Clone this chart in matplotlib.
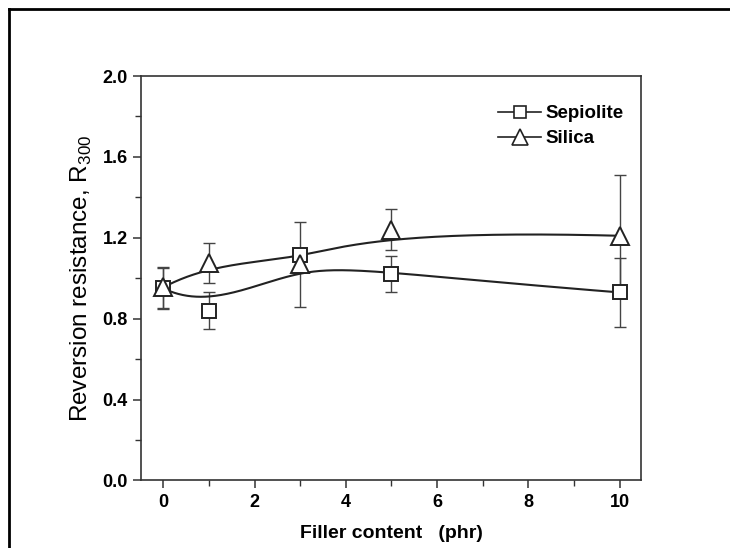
import numpy as np
import matplotlib
matplotlib.use("Agg")
import matplotlib.pyplot as plt
from matplotlib.lines import Line2D

# ---- data ----
filler = [0, 1, 3, 5, 10]
sepiolite = [0.95, 0.84, 1.115, 1.02, 0.93]
sepiolite_err = [0.10, 0.09, 0.03, 0.09, 0.17]
silica = [0.955, 1.075, 1.07, 1.24, 1.21]
silica_err = [0.10, 0.10, 0.21, 0.10, 0.30]

x_ticks = [0, 2, 4, 6, 8, 10]
y_ticks = [0.0, 0.4, 0.8, 1.2, 1.6, 2.0]


def bspline(xs, ys, n=300):
    """Clamped cubic B-spline using the data points as control points."""
    P = np.column_stack([xs, ys]).astype(float)
    m = len(P)
    k = 3
    inner = np.linspace(0, 1, m - k + 1)[1:-1]
    t = np.concatenate([[0] * (k + 1), inner, [1] * (k + 1)])
    u = np.linspace(0, 1, n)
    u[-1] = 1 - 1e-12

    def N(i, p, uu):
        if p == 0:
            return np.where((t[i] <= uu) & (uu < t[i + 1]), 1.0, 0.0)
        a = 0.0
        if t[i + p] != t[i]:
            a = (uu - t[i]) / (t[i + p] - t[i]) * N(i, p - 1, uu)
        b = 0.0
        if t[i + p + 1] != t[i + 1]:
            b = (t[i + p + 1] - uu) / (t[i + p + 1] - t[i + 1]) * N(i + 1, p - 1, uu)
        return a + b

    B = np.array([N(i, k, u) for i in range(m)])
    C = B.T @ P
    return C[:, 0], C[:, 1]


plt.rcParams['font.family'] = ['Liberation Sans', 'DejaVu Sans']
plt.rcParams['mathtext.fontset'] = 'custom'
plt.rcParams['mathtext.rm'] = 'Liberation Sans'

fig = plt.figure(figsize=(7.3, 5.48), dpi=100)
ax = fig.add_axes([0.1938, 0.1232, 0.878 - 0.1938, 0.8613 - 0.1232])

col = '#222222'
# error bars
ax.errorbar(filler, silica, yerr=silica_err, fmt='none', ecolor='#444444',
            elinewidth=1.0, capsize=4, capthick=1.0, zorder=2)
ax.errorbar(filler, sepiolite, yerr=sepiolite_err, fmt='none', ecolor='#444444',
            elinewidth=1.0, capsize=4, capthick=1.0, zorder=2)

# smooth curves
sx, sy = bspline(filler, sepiolite)
ax.plot(sx, sy, color=col, lw=1.5, zorder=3)
tx, ty = bspline(filler, silica)
ax.plot(tx, ty, color=col, lw=1.5, zorder=3)

# markers
ax.plot(filler, sepiolite, linestyle='none', marker='s', ms=10, mfc='white',
        mec=col, mew=1.4, zorder=4)
ax.plot(filler, silica, linestyle='none', marker='^', ms=13, mfc='white',
        mec=col, mew=1.4, zorder=5)

ax.set_xlim(-0.48, 10.47)
ax.set_ylim(0, 2.0)
ax.set_xticks(x_ticks)
ax.set_xticks([1, 3, 5, 7, 9], minor=True)
ax.set_yticks(y_ticks)
ax.set_yticks([0.2, 0.6, 1.0, 1.4, 1.8], minor=True)
ax.set_yticklabels([f"{v:.1f}" for v in y_ticks])
ax.tick_params(which='both', direction='out', top=False, right=False,
               labelsize=13, color='#333333')
ax.tick_params(which='major', length=6, width=1.1, pad=4)
ax.tick_params(which='minor', length=4, width=1.0)
for lab in ax.get_xticklabels() + ax.get_yticklabels():
    lab.set_fontweight('bold')
for s in ax.spines.values():
    s.set_linewidth(1.2)
    s.set_color('#333333')

ax.set_xlabel('Filler content   (phr)', fontsize=14, fontweight='bold', labelpad=10)
ax.set_ylabel('Reversion resistance, R$_{300}$', fontsize=17.5,
              fontweight='normal', labelpad=6)

h1 = Line2D([], [], color=col, lw=1.2, marker='s', ms=8.5, mfc='white', mec=col, mew=1.2)
h2 = Line2D([], [], color=col, lw=1.2, marker='^', ms=12, mfc='white', mec=col, mew=1.2)
leg = ax.legend([h1, h2], ['Sepiolite', 'Silica'], loc='upper right',
                bbox_to_anchor=(1.0, 0.97), frameon=False, fontsize=13.5,
                handlelength=2.3, handletextpad=0.25, labelspacing=0.42,
                numpoints=1)
for t in leg.get_texts():
    t.set_fontweight('bold')

# outer frame lines (left and top)
fig.add_artist(Line2D([9 / 730, 9 / 730], [0, 1 - 9 / 548], color='black',
                      lw=2.0, transform=fig.transFigure))
fig.add_artist(Line2D([9 / 730, 1], [1 - 9 / 548, 1 - 9 / 548], color='black',
                      lw=2.0, transform=fig.transFigure))

fig.savefig('out.png', dpi=100)
